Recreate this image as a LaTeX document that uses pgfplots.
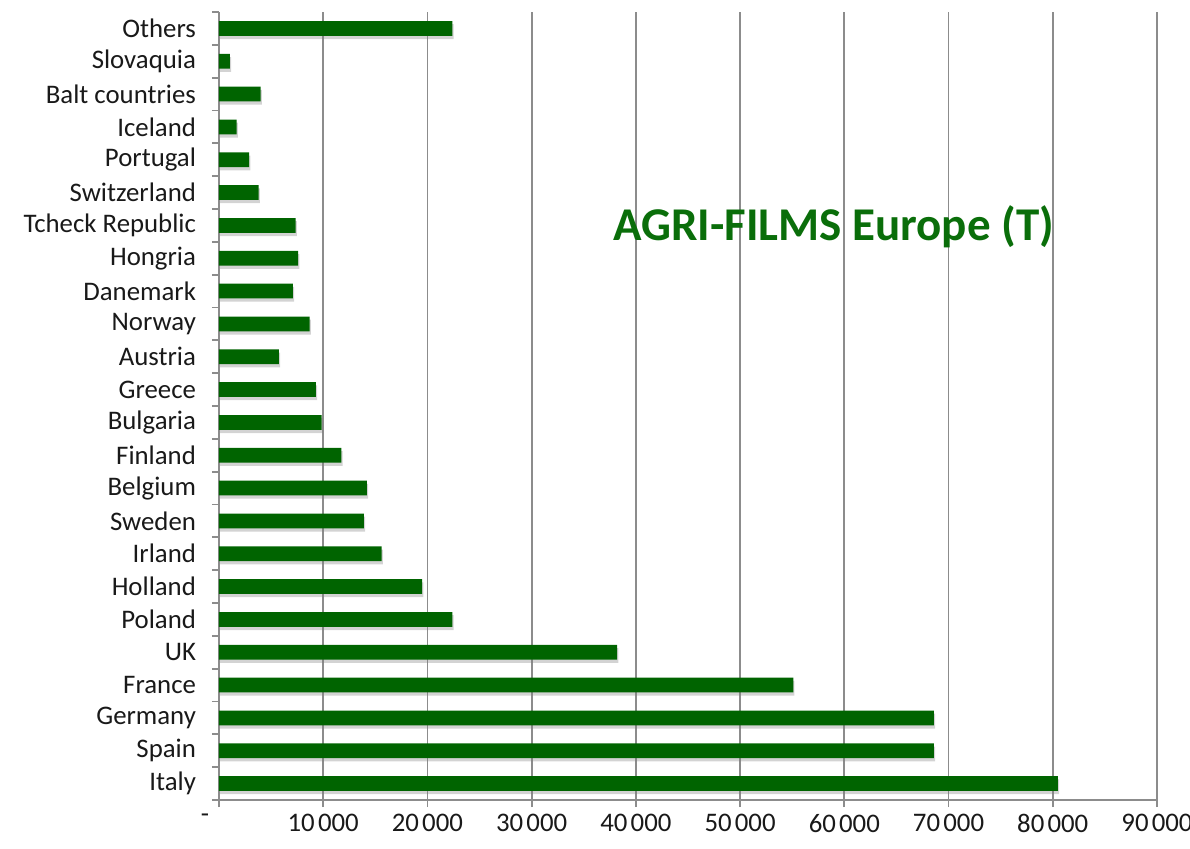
\documentclass[border=0pt]{standalone}
\usepackage{fontspec}
\setmainfont{Carlito}
\usepackage{pgfplots}
\usepackage{pgfplotstable}
\pgfplotsset{compat=1.18}
\usetikzlibrary{shadows}
\definecolor{bargreen}{RGB}{0,100,0}
\definecolor{titlegreen}{RGB}{10,110,10}
\definecolor{gridgray}{RGB}{140,140,140}
\definecolor{labelcol}{RGB}{25,25,25}

\pgfplotstableread{
idx value
0 80500
1 68600
2 68600
3 55100
4 38200
5 22400
6 19500
7 15600
8 13900
9 14200
10 11750
11 9850
12 9300
13 5750
14 8700
15 7100
16 7600
17 7350
18 3800
19 2900
20 1700
21 4000
22 1050
23 22400
}\datatable

\begin{document}
\begin{tikzpicture}
\begin{axis}[
  at={(0,0)}, anchor=south west,
  scale only axis, width=469pt, height=394pt,
  xmin=0, xmax=90000, ymin=-0.5, ymax=23.5,
  axis lines*=left,
  axis line style={gridgray, line width=0.9pt},
  xtick={0,10000,...,90000},
  xticklabels={\llap{-\hspace{5pt}}, 10\hspace{0.12em}000, 20\hspace{0.12em}000, 30\hspace{0.12em}000, 40\hspace{0.12em}000, 50\hspace{0.12em}000, 60\hspace{0.12em}000, 70\hspace{0.12em}000, 80\hspace{0.12em}000, 90\hspace{0.12em}000},
  scaled x ticks=false,
  ytick={-0.5,0.5,...,23.5},
  yticklabels={},
  extra y ticks={0,...,23},
  extra y tick labels={Italy, Spain, Germany, France, UK, Poland, Holland, Irland, Sweden, Belgium, Finland, Bulgaria, Greece, Austria, Norway, Danemark, Hongria, Tcheck Republic\ , Switzerland, Portugal, Iceland, Balt countries, Slovaquia, Others\ },
  extra y tick style={major tick length=0pt, tick label style={xshift=-8pt}},
  tick align=outside,
  major tick length=3.5pt,
  tick style={gridgray, line width=0.9pt},
  xmajorgrids,
  grid style={gridgray, line width=0.9pt},
  ticklabel style={font=\fontsize{13.4}{15}\selectfont, text=labelcol},
  xbar, bar width=0.45,
]
\addplot[fill=bargreen, draw=none, drop shadow={shadow xshift=0.6pt, shadow yshift=-1.6pt, opacity=0.35}] table[x=value, y=idx]{\datatable};
\node[anchor=base, font=\fontsize{23.5}{28}\selectfont\bfseries, text=titlegreen, inner sep=0pt] at (axis cs:58970,16.55) {AGRI-FILMS Europe (T)};
\end{axis}
\pgfresetboundingbox
\path (-109.5pt,-24pt) rectangle (485.5pt,400pt);
\end{tikzpicture}
\end{document}
